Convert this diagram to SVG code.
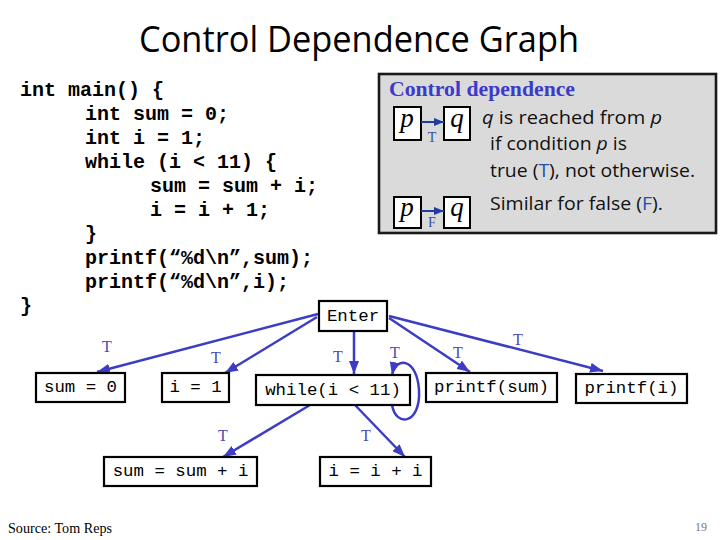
<svg xmlns="http://www.w3.org/2000/svg" width="720" height="540" viewBox="0 0 720 540">
<defs>
<style>
.title{font-family:"Open Sans","Noto Sans","Liberation Sans",sans-serif;font-size:37px;fill:#000}
.code{font-family:"Liberation Mono","DejaVu Sans Mono",monospace;font-weight:bold;font-size:20px;fill:#000}
.node rect{fill:#fff;stroke:#000;stroke-width:2.2}
.node text{font-family:"Liberation Mono","DejaVu Sans Mono",monospace;font-size:17.4px;fill:#000;text-anchor:middle}
.edge{fill:none;stroke:#3c3cc4;stroke-width:2.5;marker-end:url(#ah)}
.elabel{font-family:"Liberation Serif","Times New Roman",serif;font-size:16px;fill:#4a4ab4;text-anchor:middle}
.legbox{fill:#fff;stroke:#000;stroke-width:2}
.pq{font-family:"Liberation Serif","Times New Roman",serif;font-style:italic;font-size:27px;fill:#000;text-anchor:middle}
.legarrow{fill:none;stroke:#1f3d9e;stroke-width:2;marker-end:url(#ah2)}
.leglabel{font-family:"Liberation Serif","Times New Roman",serif;font-size:14px;fill:#2f4fa8;text-anchor:middle}
.desc{font-family:"Open Sans","Noto Sans","Liberation Sans",sans-serif;font-size:18.5px;fill:#111}
.blue{fill:#2450a8}
.it{font-style:italic}
</style>
<marker id="ah" markerUnits="userSpaceOnUse" markerWidth="13" markerHeight="10" refX="13" refY="5" orient="auto">
<path d="M0,0 L13,5 L0,10 Z" fill="#3c3cc4"/>
</marker>
<marker id="ah2" markerUnits="userSpaceOnUse" markerWidth="10" markerHeight="8" refX="10" refY="4" orient="auto">
<path d="M0,0 L10,4 L0,8 Z" fill="#1f3d9e"/>
</marker>
</defs>
<rect x="0" y="0" width="720" height="540" fill="#fff"/>

<text class="title" x="359" y="52" text-anchor="middle" textLength="440" lengthAdjust="spacingAndGlyphs">Control Dependence Graph</text>

<g id="code">
<text class="code" x="20" y="96">int main() {</text>
<text class="code" x="85" y="120">int sum = 0;</text>
<text class="code" x="85" y="144">int i = 1;</text>
<text class="code" x="85" y="168">while (i &lt; 11) {</text>
<text class="code" x="150" y="192">sum = sum + i;</text>
<text class="code" x="150" y="216">i = i + 1;</text>
<text class="code" x="85" y="240">}</text>
<text class="code" x="85" y="264">printf(“%d\n”,sum);</text>
<text class="code" x="85" y="288">printf(“%d\n”,i);</text>
<text class="code" x="20" y="312">}</text>
</g>

<g id="legend">
<rect x="379" y="74" width="337" height="159" fill="#dadada" stroke="#1a1a1a" stroke-width="2.6"/>
<text x="389" y="96" font-family="'Liberation Serif','Times New Roman',serif" font-weight="bold" font-size="21.5px" fill="#3a3acb" textLength="186" lengthAdjust="spacingAndGlyphs">Control dependence</text>
<rect class="legbox" x="394" y="107" width="27" height="33"/>
<text class="pq" x="407" y="127">p</text>
<rect class="legbox" x="444" y="107" width="26" height="33"/>
<text class="pq" x="457" y="127">q</text>
<path class="legarrow" d="M421,122 L444,122"/>
<text class="leglabel" x="432" y="142">T</text>
<rect class="legbox" x="394" y="197" width="27" height="31"/>
<text class="pq" x="407" y="216">p</text>
<rect class="legbox" x="444" y="197" width="26" height="31"/>
<text class="pq" x="457" y="216">q</text>
<path class="legarrow" d="M421,211 L444,211"/>
<text class="leglabel" x="432" y="227">F</text>
<text class="desc" x="482" y="124" textLength="180" lengthAdjust="spacingAndGlyphs"><tspan class="it">q</tspan> is reached from <tspan class="it">p</tspan></text>
<text class="desc" x="490" y="150" textLength="137" lengthAdjust="spacingAndGlyphs">if condition <tspan class="it">p</tspan> is</text>
<text class="desc" x="490" y="177" textLength="205" lengthAdjust="spacingAndGlyphs">true (<tspan class="blue">T</tspan>), not otherwise.</text>
<text class="desc" x="490" y="210" textLength="173" lengthAdjust="spacingAndGlyphs">Similar for false (<tspan class="blue">F</tspan>).</text>
</g>

<g id="connectors">
<path class="edge" d="M318,314 L97,372"/>
<path class="edge" d="M317,317 L225,373"/>
<path class="edge" d="M354,331 L354,374"/>
<path class="edge" d="M392,405 C396,428 421,424 419,390 C417,358 396,356 392,375"/>
<path class="edge" d="M389,318 L470,372"/>
<path class="edge" d="M389,316 L603,371"/>
<path class="edge" d="M310,405 L223,457"/>
<path class="edge" d="M355,405 L405,457"/>
<text class="elabel" x="107" y="352">T</text>
<text class="elabel" x="216" y="363">T</text>
<text class="elabel" x="338" y="362">T</text>
<text class="elabel" x="395" y="358">T</text>
<text class="elabel" x="458" y="358">T</text>
<text class="elabel" x="518" y="345">T</text>
<text class="elabel" x="223" y="441">T</text>
<text class="elabel" x="366" y="441">T</text>
</g>

<g id="n-enter" class="node"><rect x="319" y="301" width="68" height="30"/><text x="353" y="321">Enter</text></g>
<g id="n-sum0" class="node"><rect x="36" y="373" width="89" height="29"/><text x="80.5" y="392">sum = 0</text></g>
<g id="n-i1" class="node"><rect x="162" y="373" width="67" height="29"/><text x="195.5" y="392">i = 1</text></g>
<g id="n-while" class="node"><rect x="256" y="375" width="154" height="30"/><text x="333" y="395">while(i &lt; 11)</text></g>
<g id="n-printfsum" class="node"><rect x="426" y="373" width="131" height="29"/><text x="491.5" y="392">printf(sum)</text></g>
<g id="n-printfi" class="node"><rect x="576" y="374" width="111" height="29"/><text x="631.5" y="393">printf(i)</text></g>
<g id="n-sumsum" class="node"><rect x="104" y="457" width="153" height="29"/><text x="180.5" y="476">sum = sum + i</text></g>
<g id="n-iii" class="node"><rect x="320" y="457" width="111" height="29"/><text x="375.5" y="476">i = i + i</text></g>

<text x="8" y="533" font-family="'Liberation Serif','Times New Roman',serif" font-size="14px" fill="#000" textLength="104" lengthAdjust="spacingAndGlyphs">Source: Tom Reps</text>
<text x="707" y="531" font-family="'Liberation Serif','Times New Roman',serif" font-size="12px" fill="#777" text-anchor="end">19</text>
</svg>
